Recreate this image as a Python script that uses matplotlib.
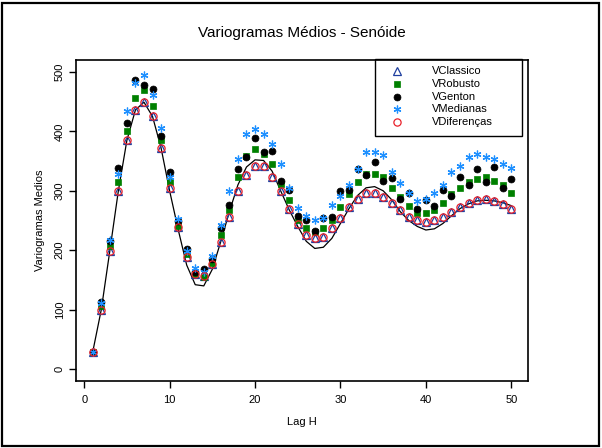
import numpy as np
import matplotlib
matplotlib.use("Agg")
from matplotlib import pyplot as plt
from matplotlib.lines import Line2D
from matplotlib.patches import Rectangle

plt.rcParams['font.family'] = ['Liberation Sans', 'DejaVu Sans']

W, H = 602, 448

# lags 1..50
lags = list(range(1, 51))

v_teorico = [29, 100, 199, 300, 385, 436, 449, 425, 372, 300,
             235, 175, 142, 140, 168, 215, 265, 310, 340, 352,
             351, 333, 300, 268, 240, 215, 203, 205, 220, 245,
             270, 292, 305, 307, 300, 285, 265, 250, 240, 234,
             236, 245, 258, 270, 278, 283, 284, 283, 280, 275]

v_classico = [29, 100, 199, 300, 385, 436, 449, 425, 372, 305,
              239, 188, 160, 157, 176, 213, 256, 299, 327, 341,
              341, 324, 299, 269, 244, 226, 220, 223, 237, 254,
              272, 287, 296, 296, 289, 279, 268, 256, 250, 247,
              250, 256, 265, 273, 280, 285, 286, 282, 278, 270]
v_diferencas = list(v_classico)

v_robusto = [29, 107, 207, 314, 401, 456, 470, 443, 385, 314,
             241, 194, 160, 155, 179, 226, 267, 324, 359, 370,
             362, 345, 312, 285, 250, 238, 230, 238, 250, 272,
             295, 314, 329, 329, 323, 305, 290, 274, 263, 262,
             267, 279, 295, 305, 314, 319, 323, 317, 310, 296]

v_genton = [29, 113, 215, 338, 414, 487, 478, 471, 392, 332,
            249, 202, 163, 168, 185, 238, 276, 336, 357, 388,
            366, 367, 317, 302, 258, 251, 233, 255, 256, 299,
            301, 336, 327, 348, 317, 321, 286, 297, 269, 285,
            274, 301, 292, 324, 309, 336, 315, 340, 305, 320]

v_medianas = [29, 112, 217, 329, 435, 482, 495, 461, 405, 324,
              252, 199, 170, 164, 190, 242, 300, 354, 396, 404,
              396, 379, 345, 304, 271, 258, 251, 255, 276, 291,
              310, 337, 366, 366, 360, 332, 313, 297, 283, 287,
              297, 310, 331, 341, 356, 362, 356, 353, 345, 338]

names = ['VClassico', 'VRobusto', 'VGenton', 'VMedianas', 'VDiferenças']

# marker styles (R pch 2, 15, 16, 8, 1)
estilos = [
    dict(marker='^', markersize=5.2, markerfacecolor='none', markeredgecolor='#1f3f9f', markeredgewidth=0.9),
    dict(marker='s', markersize=4.6, markerfacecolor='#008000', markeredgecolor='#008000', markeredgewidth=0.5),
    dict(marker='o', markersize=5.0, markerfacecolor='black', markeredgecolor='black', markeredgewidth=0.5),
    dict(marker=(6, 2, 0), markersize=5.6, markeredgecolor='#1e90ff', markeredgewidth=0.9),
    dict(marker='o', markersize=5.2, markerfacecolor='none', markeredgecolor='#e8202a', markeredgewidth=0.9),
]

fig = plt.figure(figsize=(W/100, H/100), dpi=100)
ax = fig.add_axes([76/W, 1-381/H, (528-76)/W, (381-60)/H])

# frame round the whole figure
fig.patches.append(Rectangle((2/W, 2/H), 597/W, 443/H, transform=fig.transFigure,
                             fill=False, edgecolor='black', linewidth=1.6))

ax.plot(lags, v_teorico, '-', color='black', linewidth=0.9, zorder=2)
series = [v_classico, v_robusto, v_genton, v_medianas, v_diferencas]
for s, st in zip(series, estilos):
    ax.plot(lags, s, linestyle='none', zorder=3, **st)

ax.set_xlim(-0.96, 51.96)
ax.set_ylim(-20, 520)
ax.set_xticks([0, 10, 20, 30, 40, 50])
ax.set_yticks([0, 100, 200, 300, 400, 500])
ax.tick_params(direction='out', length=5, width=1, labelsize=8)
ax.tick_params(axis='x', pad=5)
ax.tick_params(axis='y', pad=3)
for lab in ax.get_yticklabels():
    lab.set_rotation(90)
    lab.set_va('center')
for sp in ax.spines.values():
    sp.set_linewidth(1.2)

ax.set_xlabel('Lag H', fontsize=8, labelpad=9)
ax.set_ylabel('Variogramas Medios', fontsize=8, labelpad=7)
fig.text(302/W, 1-33/H, 'Variogramas Médios - Senóide', ha='center', va='center', fontsize=11)

# legend drawn by hand: box, symbols and names
fig.patches.append(Rectangle((375/W, 1-136/H), (522-375)/W, (136-59)/H, transform=fig.transFigure,
                             fill=False, edgecolor='black', linewidth=1.0))
for i, (nm, st) in enumerate(zip(names, estilos)):
    yy = 1 - (71 + 12.8*i)/H
    fig.add_artist(Line2D([397/W], [yy], transform=fig.transFigure, linestyle='none', **st))
    fig.text(432/W, yy, nm, ha='left', va='center', fontsize=8)

plt.savefig('out.png', dpi=100)
